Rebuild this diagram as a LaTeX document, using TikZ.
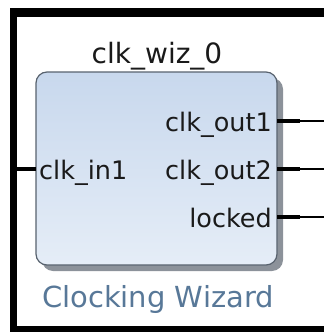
\documentclass[tikz,border=0pt]{standalone}
\usepackage{fontspec}
\setmainfont{DejaVu Sans}
\definecolor{boxtop}{RGB}{200,216,237}
\definecolor{boxbot}{RGB}{229,237,247}
\definecolor{boxedge}{RGB}{88,98,110}
\definecolor{shadowgray}{RGB}{140,146,154}
\definecolor{labelblue}{RGB}{88,120,152}
\definecolor{textdark}{RGB}{26,26,26}
\tikzset{
  portlabel/.style={inner sep=0pt, text=textdark, font=\fontsize{25.5}{28}\selectfont},
  titlelabel/.style={inner sep=0pt, text=textdark, font=\fontsize{28}{32}\selectfont, anchor=base},
  kindlabel/.style={inner sep=0pt, text=labelblue, font=\fontsize{29}{32}\selectfont, anchor=base},
  ipbox/.style={rounded corners=11pt, draw=boxedge, line width=1.2pt, top color=boxtop, bottom color=boxbot, minimum width=241pt, minimum height=193pt, inner sep=0pt},
  pinthick/.style={line width=4.5pt, black},
  pinthin/.style={line width=1.2pt, black},
}
\begin{document}
\begin{tikzpicture}[x=1pt,y=-1pt]
\useasboundingbox (0,0) rectangle (324,332);
% outer frame
\fill[black] (10,8) rectangle (324,17);
\fill[black] (10,8) rectangle (17,332);
\fill[black] (10,326) rectangle (324,332);
% shadow
\fill[shadowgray, rounded corners=11pt] (42,78) rectangle (283,271);
% block
\node[ipbox] (wiz) at (156.5,168.5) {};
\node[titlelabel] (title) at (157,63) {clk\_wiz\_0};
\node[kindlabel] (kind) at (158,307) {Clocking Wizard};
% ports
\node[portlabel, anchor=base east] (o1) at (272,131) {clk\_out1};
\node[portlabel, anchor=base east] (o2) at (272,179) {clk\_out2};
\node[portlabel, anchor=base east] (lk) at (272,227) {locked};
\node[portlabel, anchor=base west] (i1) at (39,179) {clk\_in1};
% pin coordinates
\coordinate (o1a) at (277,121);
\coordinate (o1b) at (300,121);
\coordinate (o1c) at (324,121);
\coordinate (o2a) at (277,169);
\coordinate (o2b) at (300,169);
\coordinate (o2c) at (324,169);
\coordinate (lka) at (277,217);
\coordinate (lkb) at (300,217);
\coordinate (lkc) at (324,217);
\coordinate (i1a) at (17,169);
\coordinate (i1b) at (36,169);
\draw[pinthick] (o1a) -- (o1b);
\draw[pinthin] (o1b) -- (o1c);
\draw[pinthick] (o2a) -- (o2b);
\draw[pinthin] (o2b) -- (o2c);
\draw[pinthick] (lka) -- (lkb);
\draw[pinthin] (lkb) -- (lkc);
\draw[pinthick] (i1a) -- (i1b);
\end{tikzpicture}
\end{document}
